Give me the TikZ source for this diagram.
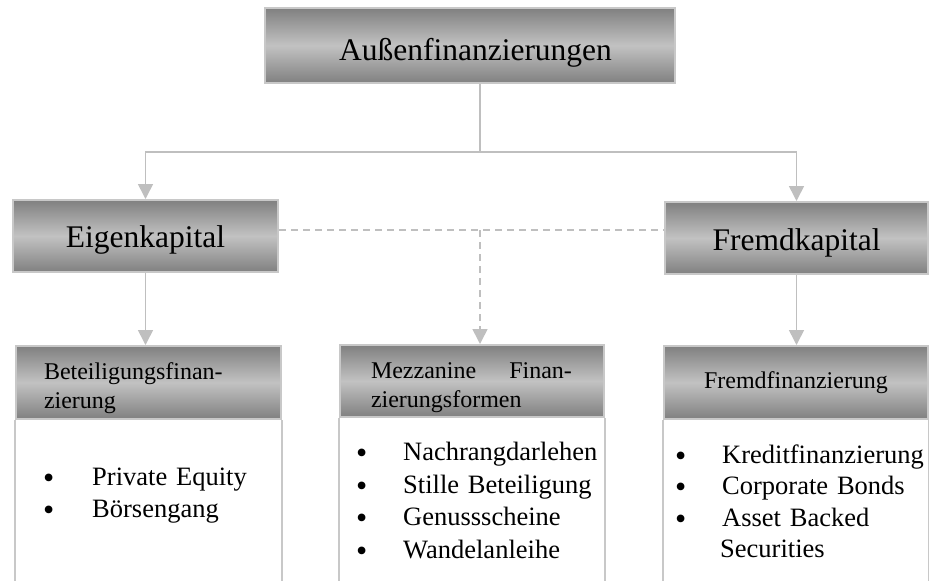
\documentclass[tikz,border=0pt]{standalone}
\usepackage{fontspec}
\setmainfont{Liberation Serif}
\usetikzlibrary{arrows.meta}
\definecolor{boxdark}{RGB}{128,128,128}
\definecolor{boxlight}{RGB}{194,194,194}
\definecolor{linegray}{RGB}{191,191,191}
\definecolor{framegray}{RGB}{200,200,200}
\newcommand{\bul}[1]{\makebox[#1][l]{\raisebox{-3pt}[0pt][0pt]{\fontsize{32}{0}\selectfont •}}}
\begin{document}
\begin{tikzpicture}[x=1pt,y=-1pt,
    shadebox/.style={draw=framegray,line width=2pt,top color=boxdark,bottom color=boxdark,middle color=boxlight,inner sep=0pt},
    hdrbox/.style={shadebox,anchor=north west,minimum width=264pt,minimum height=73pt,font=\fontsize{24}{29}\selectfont},
    itemlist/.style={anchor=base west,inner sep=0pt,align=left,text width=250pt},
    link/.style={draw=linegray,line width=1.6pt,-{Triangle[width=15pt,length=15pt]}},
    side/.style={draw=framegray,line width=2pt}]
    \useasboundingbox (0,0) rectangle (929,581);
    \node[shadebox,minimum width=410pt,minimum height=75pt,font=\fontsize{31.5}{31.5}\selectfont,text height=32pt,text depth=3pt] (aussen) at (470,45.5) {\hspace*{11pt}Außenfinanzierungen};
    \node[shadebox,minimum width=265pt,minimum height=72pt,font=\fontsize{31.5}{31.5}\selectfont,text height=26pt,text depth=4pt] (eigen) at (145.5,236) {Eigenkapital};
    \node[shadebox,minimum width=263pt,minimum height=72pt,font=\fontsize{31.5}{31.5}\selectfont,text height=28pt,text depth=4pt] (fremd) at (796.5,238) {Fremdkapital};
    \node[hdrbox,minimum width=265pt,inner xsep=28pt,text width=209pt,align=left,text height=28pt,text depth=34pt] (hdrA) at (15,345) {Beteiligungsfinan-\\zierung};
    \node[hdrbox,minimum height=72pt,inner xsep=31pt,text width=202pt,align=left,text height=28pt,text depth=34pt] (hdrB) at (339,344) {Mezzanine\hspace{33pt}Finan-\\zierungsformen};
    \node[hdrbox,align=center] (hdrC) at (663,345) {Fremdfinanzierung};
    \node[itemlist,font=\fontsize{26.5}{32}\selectfont] (listA) at (43,485) {\bul{49pt}Private Equity\\\bul{49pt}Börsengang};
    \node[itemlist,font=\fontsize{26.5}{32.5}\selectfont] (listB) at (356,460.5) {\bul{47pt}Nachrangdarlehen\\\bul{47pt}Stille Beteiligung\\\bul{47pt}Genussscheine\\\bul{47pt}Wandelanleihe};
    \node[itemlist,font=\fontsize{26.5}{31.5}\selectfont] (listC) at (675,463) {\bul{47pt}Kreditfinanzierung\\\bul{47pt}Corporate Bonds\\\bul{47pt}Asset Backed\\\hspace*{45pt}Securities};
    \coordinate (split) at (480,152);
    \coordinate (mid) at (480,230);
    \coordinate (floor) at (0,581);
    \draw[draw=linegray,line width=1.6pt] (aussen.south -| split) -- (split);
    \draw[link] (split) -| (eigen.north);
    \draw[link] (split) -| (fremd.north);
    \draw[link] (eigen.south) -- (eigen.south |- hdrA.north);
    \draw[link] (fremd.south) -- (fremd.south |- hdrC.north);
    \draw[draw=linegray,line width=1.6pt,dash pattern=on 7pt off 5pt] (eigen.east |- mid) -- (fremd.west |- mid);
    \draw[link,dash pattern=on 7pt off 5pt] (mid) -- (mid |- hdrB.north);
    \foreach \b in {hdrA,hdrB,hdrC} {
        \draw[side] (\b.south west) -- (\b.south west |- floor);
        \draw[side] (\b.south east) -- (\b.south east |- floor);
    }
\end{tikzpicture}
\end{document}
